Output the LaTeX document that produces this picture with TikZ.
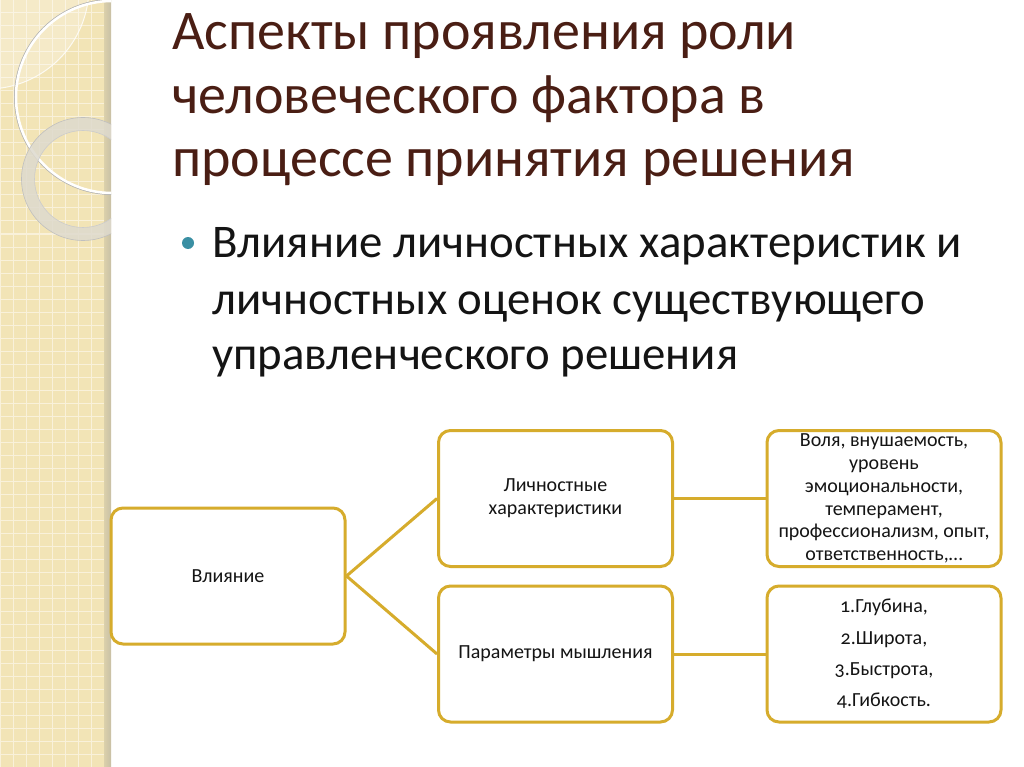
\documentclass[tikz,border=0pt]{standalone}
\usepackage{fontspec}
\setmainfont{Carlito}
\newfontfamily\boxfont[Numbers=OldStyle]{Carlito}
\definecolor{stripe}{RGB}{242,228,182}
\definecolor{gridc}{RGB}{249,241,218}
\definecolor{edgegray}{RGB}{200,192,165}
\definecolor{gold}{RGB}{214,172,44}
\definecolor{titlec}{RGB}{74,30,20}
\definecolor{bodyc}{RGB}{20,20,20}
\definecolor{teal}{RGB}{58,143,163}
\definecolor{ringc}{RGB}{222,218,206}
\tikzset{
  pbox/.style={draw=gold, line width=3pt, rounded corners=12pt, fill=white,
    minimum width=234pt, minimum height=136pt, inner sep=0pt, align=center,
    font=\boxfont\fontsize{20}{22.8}\selectfont, text=bodyc},
  conn/.style={draw=gold, line width=3pt},
  ttl/.style={anchor=base west, inner sep=0pt, text=titlec, font=\fontsize{56}{64}\selectfont},
  bul/.style={anchor=base west, inner sep=0pt, text=bodyc, font=\fontsize{46.8}{55}\selectfont},
}
\begin{document}
\begin{tikzpicture}[x=1pt,y=-1pt]
\useasboundingbox (0,0) rectangle (1024,767);
\fill[white] (0,0) rectangle (1024,767);
% left stripe
\fill[stripe] (0,0) rectangle (111,767);
\begin{scope}
\clip (0,0) rectangle (104,767);
\foreach \i in {0,13,...,110} {\draw[gridc, line width=1pt] (\i,0) -- (\i,767);}
\foreach \j in {0,13,...,767} {\draw[gridc, line width=1pt] (0,\j) -- (111,\j);}
\end{scope}
\shade[left color=stripe!80!gray, right color=edgegray] (104,0) rectangle (111,767);
\begin{scope}
\clip (0,0) rectangle (111,767);
\fill[white, opacity=0.25] (-13,-13) circle (102);
\draw[white, line width=1pt, opacity=0.8] (-13,-13) circle (102);
\draw[gray!60, line width=1pt] (112,97) circle (97.5);
\draw[white, line width=2.5pt] (112,97) circle (96);
\draw[ringc, line width=13pt, opacity=0.85] (83,179) circle (55);
\draw[gray!50, line width=0.6pt] (83,179) circle (61.5);
\draw[gray!40, line width=0.6pt] (83,179) circle (48.5);
\end{scope}
% title
\node[ttl] (title1) at (172,50) {Аспекты проявления роли};
\node[ttl] (title2) at (172,114) {человеческого фактора в};
\node[ttl] (title3) at (172,177) {процессе принятия решения};
% bullet
\fill[teal] (188,243) circle (6);
\node[bul] (bul1) at (212,258) {Влияние личностных характеристик и};
\node[bul] (bul2) at (212,314) {личностных оценок существующего};
\node[bul] (bul3) at (212,369) {управленческого решения};
% boxes
\node[pbox] (vl) at (228,576) {Влияние};
\node[pbox] (lh) at (555.5,498.5) {Личностные\\характеристики};
\node[pbox] (pm) at (555.5,654) {Параметры мышления};
\node[pbox] (vo) at (884,498.5) {Воля, внушаемость,\\уровень\\эмоциональности,\\темперамент,\\профессионализм, опыт,\\ответственность,\dots};
\node[pbox, font=\boxfont\fontsize{20}{31.3}\selectfont] (gl) at (884,654) {1.Глубина,\\2.Широта,\\3.Быстрота,\\4.Гибкость.};
% connectors
\draw[conn] (vl.east) -- (lh.west);
\draw[conn] (vl.east) -- (pm.west);
\draw[conn] (lh.east) -- (vo.west);
\draw[conn] (pm.east) -- (gl.west);
\end{tikzpicture}
\end{document}
